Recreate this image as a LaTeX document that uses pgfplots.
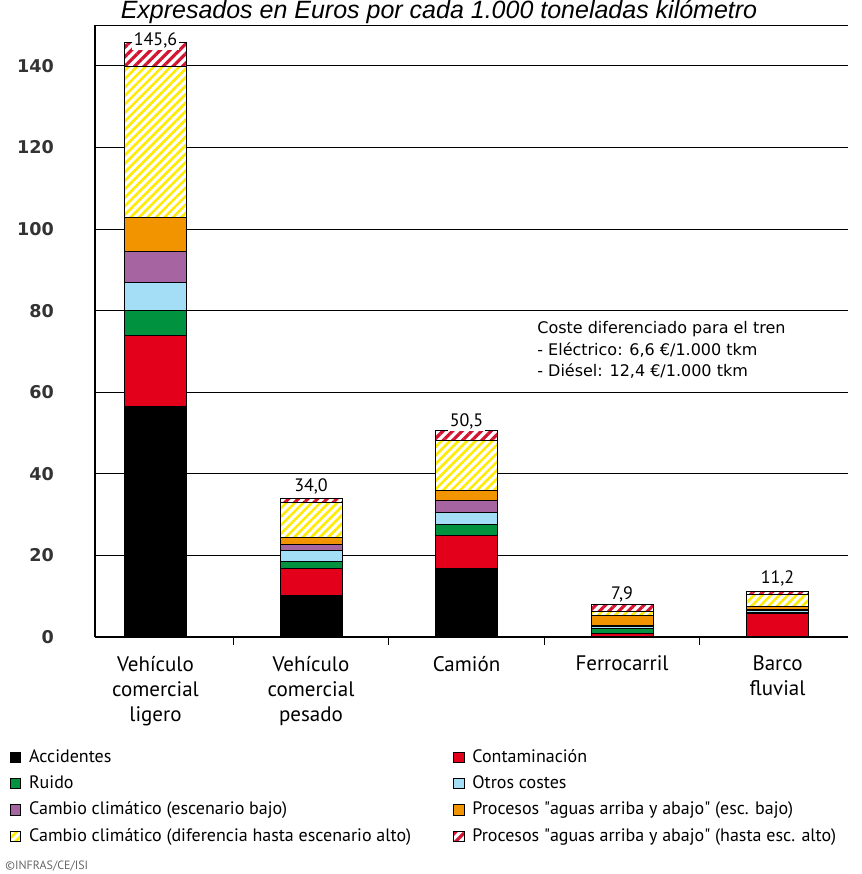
\documentclass[border=0pt]{standalone}
\usepackage{fontspec}
\setmainfont{PT Sans}
\newfontfamily\ptq{PT Sans}
\newfontfamily\dejavu{DejaVu Sans}
\newfontfamily\libsans{Liberation Sans}
\usepackage{pgfplots}
\pgfplotsset{compat=1.18}
\usepackage{pgfplotstable}
\usetikzlibrary{patterns.meta}

\definecolor{cAcc}{RGB}{0,0,0}
\definecolor{cCont}{RGB}{226,0,26}
\definecolor{cRuido}{RGB}{0,146,63}
\definecolor{cOtros}{RGB}{164,221,246}
\definecolor{cCCb}{RGB}{166,100,160}
\definecolor{cPRb}{RGB}{242,148,0}
\definecolor{cCCa}{RGB}{255,236,0}
\definecolor{cPRa}{RGB}{210,20,50}

\newcommand{\q}{{\ptq"}}

\pgfplotstableread{
x acc cont ruido otros cclow proclow cchigh prochigh label
0 56.6 17.4 6.1 6.8 7.5 8.3 37.1 5.8 145,6
1 10.2 6.5 1.8 2.7 1.5 1.7 8.6 1.0 34,0
2 16.8 8.1 2.7 2.8 3.1 2.4 12.3 2.3 50,5
3 0.2 0.7 1.2 0.4 0.4 2.4 0.9 1.7 7,9
4 0.2 5.6 0.3 0.4 0.3 0.6 3.0 0.8 11,2
}\datos

\pgfplotsset{
  sq legend/.style={legend image code/.code={\draw[##1,line width=0.4pt] (0pt,-2.6pt) rectangle (5.2pt,2.6pt);}},
}

\begin{document}
\begin{tikzpicture}
\begin{axis}[
  name=ax,
  scale only axis, width=376.5pt, height=306pt,
  ybar stacked, bar width=31pt,
  xmin=-0.389, xmax=4.453, ymin=0, ymax=150,
  clip=false,
  axis x line*=bottom, axis y line*=left,
  axis line style={line width=0.6pt},
  ytick={0,20,...,140},
  extra y ticks={150}, extra y tick labels={},
  extra y tick style={grid=major, major tick length=0pt},
  ymajorgrids,
  major grid style={black, line width=0.5pt},
  major tick length=0pt,
  tick align=outside,
  xtick={0,1,2,3,4},
  xticklabels={{Vehículo\\comercial\\ligero},{Vehículo\\comercial\\pesado},{Camión},{Ferrocarril},{Barco\\fluvial}},
  minor xtick={0.5,1.5,2.5,3.5},
  minor tick length=4pt,
  minor tick style={black, line width=0.6pt},
  xticklabel style={align=center, yshift=-6pt, font=\fontsize{10.5}{12.5}\selectfont},
  yticklabel style={xshift=-17pt, font=\dejavu\bfseries\fontsize{8.8}{10}\selectfont, text=black!80},
  /pgf/number format/assume math mode=true,
  every axis plot/.append style={draw=black, line width=0.5pt},
  legend columns=2,
  legend cell align=left,
  legend style={draw=none, fill=none, at={(axis description cs:0,0)}, anchor=north west,
    xshift=-42.5pt, yshift=-54.5pt, inner sep=0pt, outer sep=0pt,
    font=\fontsize{9}{11}\selectfont, row sep=2pt,
    nodes={inner sep=1pt, text height=7pt, text depth=2.2pt},
    /tikz/every odd column/.append style={column sep=3pt},
    /tikz/every even column/.append style={column sep=4pt}},
]
\addplot[fill=cAcc, sq legend] table[x=x,y=acc]{\datos};
\addlegendentry{\makebox[207pt][l]{Accidentes}}
\addplot[fill=cCont, sq legend] table[x=x,y=cont]{\datos};
\addlegendentry{Contaminación}
\addplot[fill=cRuido, sq legend] table[x=x,y=ruido]{\datos};
\addlegendentry{\makebox[207pt][l]{Ruido}}
\addplot[fill=cOtros, sq legend] table[x=x,y=otros]{\datos};
\addlegendentry{Otros costes}
\addplot[fill=cCCb, sq legend] table[x=x,y=cclow]{\datos};
\addlegendentry{\makebox[207pt][l]{Cambio climático (escenario bajo)}}
\addplot[fill=cPRb, sq legend] table[x=x,y=proclow]{\datos};
\addlegendentry{Procesos \q aguas arriba y abajo\q{} (esc. bajo)}
\addplot[fill=white, sq legend, postaction={pattern={Lines[angle=45,distance=3pt,line width=1.3pt]}, pattern color=cCCa}] table[x=x,y=cchigh]{\datos};
\addlegendentry{\makebox[207pt][l]{Cambio climático (diferencia hasta escenario alto)}}
\addplot[fill=white, sq legend, postaction={pattern={Lines[angle=45,distance=3.4pt,line width=1.6pt]}, pattern color=cPRa},
  nodes near coords, point meta=explicit symbolic,
  nodes near coords style={font=\fontsize{9}{10}\selectfont, fill=white, inner sep=1pt, anchor=south, yshift=2pt, text=black}]
  table[x=x,y=prochigh,meta=label]{\datos};
\addlegendentry{Procesos \q aguas arriba y abajo\q{} (hasta esc. alto)}
\node[anchor=north west, align=left, font=\dejavu\fontsize{8}{10.75}\selectfont] at (axis cs:2.41,79)
  {Coste diferenciado para el tren\\- Eléctrico: 6,6 €/1.000 tkm\\- Diésel: 12,4 €/1.000 tkm};
\end{axis}
\node[anchor=base, font=\libsans\itshape\fontsize{12.5}{14}\selectfont] at ([xshift=172pt, yshift=3pt]ax.north west)
  {Expresados en Euros por cada 1.000 toneladas kilómetro};
\node[anchor=west, font=\fontsize{6}{7}\selectfont, text=black!60, inner sep=0pt] at ([xshift=-45pt,yshift=-114.5pt]ax.south west) {©INFRAS/CE/ISI};
\pgfresetboundingbox
\path[use as bounding box] ([xshift=-47.5pt,yshift=-118.5pt]ax.south west) rectangle ([xshift=7pt,yshift=12.5pt]ax.north east);
\end{tikzpicture}
\end{document}
